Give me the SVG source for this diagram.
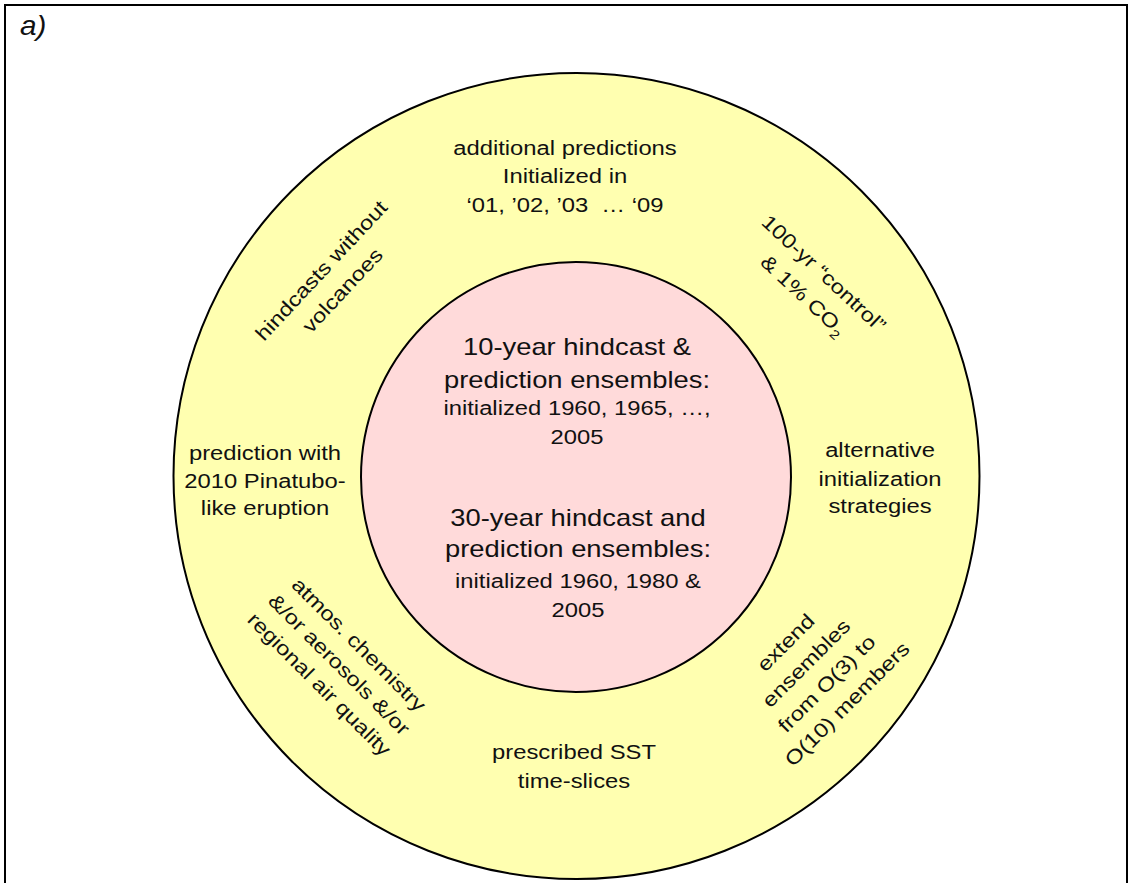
<svg xmlns="http://www.w3.org/2000/svg" width="1133" height="883" viewBox="0 0 1133 883">
<style>
  .t { font-family: "Liberation Sans", Arial, sans-serif; font-size: 20px; fill: #111; text-anchor: middle; }
  .big { font-size: 23px; }
  .ring { fill: #FFFFB0; stroke: #000; stroke-width: 2; }
  .core { fill: #FFDADA; stroke: #000; stroke-width: 2; }
</style>
<rect x="0" y="0" width="1133" height="883" fill="#fff"/>
<rect id="frame" x="5" y="5" width="1122" height="890" fill="none" stroke="#000" stroke-width="2"/>
<text x="0" y="35" font-family="Liberation Sans, Arial, sans-serif" font-size="27" font-style="italic" fill="#111" transform="translate(20,0) scale(1.1,1)">a)</text>

<g id="outer-ring">
  <circle class="ring" cx="576.5" cy="476" r="403"/>
</g>
<g id="inner-circle">
  <circle class="core" cx="576" cy="477" r="215"/>
</g>
<g id="connectors"/>

<g id="core-10yr" transform="translate(577,0) scale(1.19,1)">
  <text class="t big" x="0" y="355">10-year hindcast &amp;</text>
  <text class="t big" x="0" y="388">prediction ensembles:</text>
  <text class="t" x="0" y="415">initialized 1960, 1965, …,</text>
  <text class="t" x="0" y="444">2005</text>
</g>
<g id="core-30yr" transform="translate(578,0) scale(1.19,1)">
  <text class="t big" x="0" y="526">30-year hindcast and</text>
  <text class="t big" x="0" y="557">prediction ensembles:</text>
  <text class="t" x="0" y="588">initialized 1960, 1980 &amp;</text>
  <text class="t" x="0" y="617">2005</text>
</g>

<g id="node-additional" transform="translate(565,0) scale(1.19,1)">
  <text class="t" x="0" y="155">additional predictions</text>
  <text class="t" x="0" y="183">Initialized in</text>
  <text class="t" x="0" y="212" xml:space="preserve">‘01, ’02, ’03  … ‘09</text>
</g>
<g id="node-pinatubo" transform="translate(265,0) scale(1.19,1)">
  <text class="t" x="0" y="460">prediction with</text>
  <text class="t" x="0" y="488">2010 Pinatubo-</text>
  <text class="t" x="0" y="515">like eruption</text>
</g>
<g id="node-alternative" transform="translate(880,0) scale(1.19,1)">
  <text class="t" x="0" y="457">alternative</text>
  <text class="t" x="0" y="486">initialization</text>
  <text class="t" x="0" y="513">strategies</text>
</g>
<g id="node-sst" transform="translate(574,0) scale(1.19,1)">
  <text class="t" x="0" y="759">prescribed SST</text>
  <text class="t" x="0" y="788">time-slices</text>
</g>
<g id="node-volcanoes" transform="translate(332.5,281) rotate(-47) scale(1.19,1)">
  <text class="t" x="0" y="-8.5">hindcasts without</text>
  <text class="t" x="0" y="20.5">volcanoes</text>
</g>
<g id="node-control" transform="translate(813,285) rotate(43) scale(1.19,1)">
  <text class="t" x="0" y="-9">100-yr “control”</text>
  <text class="t" x="0" y="21">&amp; 1% CO<tspan font-size="13" dy="5">2</tspan></text>
</g>
<g id="node-chemistry" transform="translate(338.5,665) rotate(45) scale(1.19,1)">
  <text class="t" x="0" y="-22">atmos. chemistry</text>
  <text class="t" x="0" y="6">&amp;/or aerosols &amp;/or</text>
  <text class="t" x="0" y="34">regional air quality</text>
</g>
<g id="node-ensembles" transform="translate(817,674) rotate(-45) scale(1.19,1)">
  <text class="t" x="0" y="-37.5">extend</text>
  <text class="t" x="0" y="-8.5">ensembles</text>
  <text class="t" x="0" y="20.5">from O(3) to</text>
  <text class="t" x="0" y="49.5">O(10) members</text>
</g>
</svg>
